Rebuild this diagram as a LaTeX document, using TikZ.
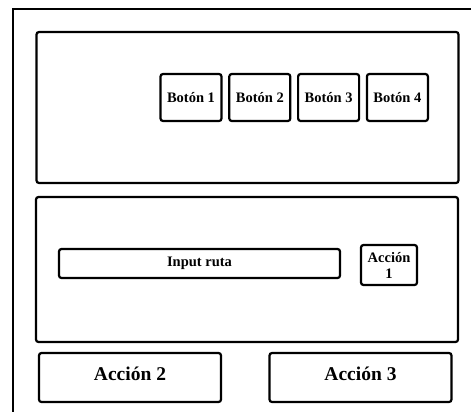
\documentclass[tikz,border=0pt]{standalone}
\usepackage{fontspec}
\setmainfont{Liberation Serif}
\usepackage{tikz}
\usetikzlibrary{positioning}
\tikzstyle{caja}=[draw,line width=2.2pt,rounded corners=2.5pt,inner sep=0pt,font=\bfseries\fontsize{14.5}{15}\selectfont]
\tikzstyle{panel}=[caja,minimum width=422pt]
\tikzstyle{boton}=[caja,minimum width=61pt,minimum height=47pt]
\tikzstyle{accion}=[caja,minimum width=182pt,minimum height=49pt,text depth=7pt,font=\bfseries\fontsize{19.5}{21}\selectfont]
\begin{document}
\begin{tikzpicture}[x=1pt,y=-1pt,node distance=68.8pt]
            \clip (0,0) rectangle (471,412);
            \draw[line width=2.2pt] (13,430) -- (13,9) -- (490,9);
            \node (P1) [panel, minimum height=151pt] at (247.5,107.5) {};
            \node (B1) [boton] at (191,97.5) {Botón 1};
            \node (B2) [boton] [right of=B1] {Botón 2};
            \node (B3) [boton] [right of=B2] {Botón 3};
            \node (B4) [boton] [right of=B3] {Botón 4};
            \node (P2) [panel, minimum height=145pt] at (247,269.5) {};
            \node (IN) [caja, minimum width=281pt, minimum height=29pt] at (199.5,263.5) {Input ruta};
            \node (A1) [caja, minimum width=56pt, minimum height=40pt, align=center, font=\bfseries\fontsize{14.5}{16}\selectfont] at (389,265) {Acción\\1};
            \node (A2) [accion] at (130,377.5) {Acción 2};
            \node (A3) [accion] at (360.5,377.5) {Acción 3};
        \end{tikzpicture}
\end{document}
